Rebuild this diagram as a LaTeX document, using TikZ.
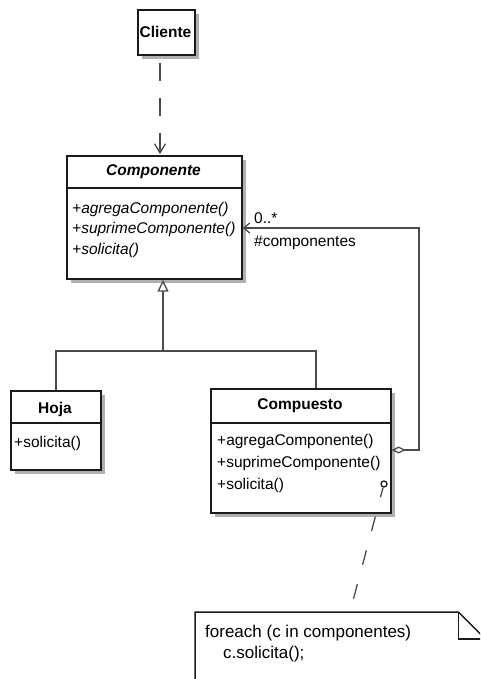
\documentclass[tikz,border=0pt]{standalone}
\usepackage{fontspec}
\setmainfont{Liberation Sans}
\usetikzlibrary{arrows.meta,shadows,calc}
\definecolor{edge}{HTML}{1A1A1A}
\definecolor{conn}{HTML}{4A4A4A}
\definecolor{shade}{HTML}{B0B0B0}
\tikzset{
  classbox/.style={draw=edge, line width=1.7pt, fill=white, anchor=north west, inner sep=0pt,
    drop shadow={shadow xshift=4pt, shadow yshift=-4pt, fill=shade, opacity=1}},
  divider/.style={draw=edge, line width=1.3pt},
  txt/.style={inner sep=0pt, text=black, font=\fontsize{15.5}{18}\selectfont},
  ttl/.style={inner sep=0pt, text=black, font=\fontsize{15.5}{18}\selectfont\bfseries},
  ittl/.style={inner sep=0pt, text=black, font=\fontsize{15.5}{18}\selectfont\bfseries\itshape},
  itxt/.style={inner sep=0pt, text=black, font=\fontsize{15.5}{18}\selectfont\itshape},
  notetxt/.style={inner sep=0pt, text=black, font=\fontsize{17}{20}\selectfont, anchor=west},
  conline/.style={draw=conn, line width=1.3pt},
  depline/.style={conline, dash pattern=on 18pt off 17pt, dash phase=28pt},
  notelink/.style={conline, dash pattern=on 15pt off 20pt, dash phase=5pt},
}
\begin{document}
\begin{tikzpicture}[x=1pt,y=-1pt]
\useasboundingbox (0,0) rectangle (480,679);
\clip (0,0) rectangle (480,679);

% Cliente
\node[classbox, minimum width=57pt, minimum height=45pt] (cliente) at (137,9) {};
\node[ttl] (clientet) at (165.5,31.5) {Cliente};

% Componente
\node[classbox, minimum width=175pt, minimum height=123pt] (componente) at (66,155) {};
\draw[divider] ($(componente.north west)+(0,33)$) -- ($(componente.north east)+(0,33)$);
\node[ittl] (componentet) at (153.5,172) {Componente};
\node[itxt, anchor=west] (cm1) at (72,209) {+agregaComponente()};
\node[itxt, anchor=west] (cm2) at (72,229.5) {+suprimeComponente()};
\node[itxt, anchor=west] (cm3) at (72,250) {+solicita()};

% Hoja
\node[classbox, minimum width=90pt, minimum height=79pt] (hoja) at (10,390) {};
\draw[divider] ($(hoja.north west)+(0,33)$) -- ($(hoja.north east)+(0,33)$);
\node[ttl] (hojat) at (55,409) {Hoja};
\node[txt, anchor=west] (hm1) at (14,443) {+solicita()};

% Compuesto
\node[classbox, minimum width=180pt, minimum height=124pt] (compuesto) at (210,388) {};
\draw[divider] ($(compuesto.north west)+(0,35)$) -- ($(compuesto.north east)+(0,35)$);
\node[ttl] (compuestot) at (300,406) {Compuesto};
\node[txt, anchor=west] (pm1) at (217,441) {+agregaComponente()};
\node[txt, anchor=west] (pm2) at (217,463) {+suprimeComponente()};
\node[txt, anchor=west] (pm3) at (217,485.5) {+solicita()};

% Cliente -> Componente (dependency)
\coordinate (depx) at (160,0);
\draw[depline] (cliente.south -| depx) -- ($(componente.north -| depx)+(0,-1)$);
\draw[conline, {Straight Barb[length=9pt,width=11pt]}-] ($(componente.north -| depx)+(0,-1)$) -- ++(0,-8);

% Generalization tree
\coordinate (genbar) at (163,351);
\coordinate (gx) at (316,0);
\draw[conline] (hoja.north) |- (genbar) -| (compuesto.north -| gx);
\draw[conline, -{Triangle[open, length=12pt, width=11pt, fill=white]}] (genbar) -- (componente.south -| genbar);

% Aggregation Compuesto -> Componente
\coordinate (aggy) at (0,450);
\coordinate (aggcorner) at (419,228);
\draw[conline, {Diamond[open, length=14pt, width=7pt, fill=white]}-{Straight Barb[length=6pt,width=10pt]}]
  (compuesto.east |- aggy) -| (aggcorner) -- (componente.east |- aggcorner);
\node[txt, anchor=west] (mult) at (254,218) {0..*};
\node[txt, anchor=west] (role) at (254,243) {\#componentes};

% Note
\node[circle, draw=edge, line width=1.3pt, fill=white, minimum size=6pt, inner sep=0pt] (circ) at (384,484) {};
\node[inner sep=0pt, minimum width=290pt, minimum height=90pt, anchor=north west] (note) at (195,612) {};
\coordinate (notetop) at (350,612);
\draw[notelink] (circ) -- (notetop);
\draw[draw=edge, line width=1.5pt, fill=white]
  (note.south west) -- (note.north west) -- ($(note.north east)+(-27,0)$) -- ($(note.north east)+(0,27)$) -- (note.south east);
\draw[draw=edge, line width=1.5pt] ($(note.north east)+(-27,0)$) -- ($(note.north east)+(-27,27)$) -- ($(note.north east)+(0,27)$);
\node[notetxt] (n1) at (205,633) {foreach (c in componentes)};
\node[notetxt] (n2) at (223,654) {c.solicita();};
\end{tikzpicture}
\end{document}
